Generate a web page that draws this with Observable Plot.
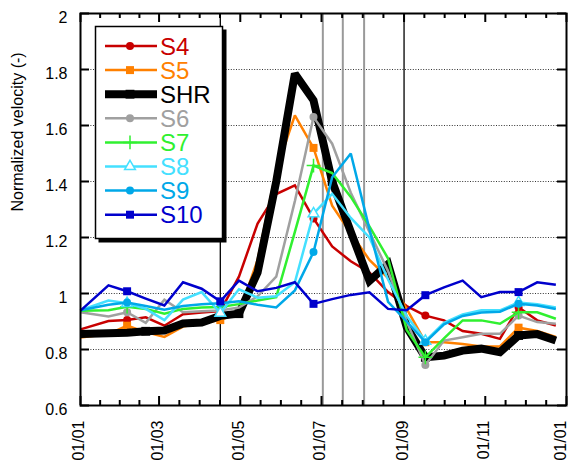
<!DOCTYPE html>
<html><head><meta charset="utf-8">
<script src="https://cdn.jsdelivr.net/npm/d3@7"></script>
<script src="https://cdn.jsdelivr.net/npm/@observablehq/plot@0.6"></script>
<style>body{margin:0;background:#fff}#chart{width:569px;height:462px}</style>
</head><body><div id="chart"></div>
<script>
// day of year (0 = 01/01)
const days = [0,21,35,49,63,77,91,105,119,133,147,161,175,189,203,217,231,245,259,273,287,301,315,329,343,357];
const S4  = [0.872,0.902,0.905,0.915,0.885,0.926,0.932,0.937,1.06,1.25,1.355,1.386,1.268,1.168,1.115,1.075,1.005,0.955,0.921,0.904,0.866,0.856,0.838,0.951,0.904,0.886];
const S5  = [0.843,0.855,0.885,0.862,0.845,0.882,0.895,0.905,0.93,1.12,1.44,1.636,1.52,1.314,1.215,1.12,1.055,0.945,0.826,0.826,0.82,0.811,0.811,0.878,0.866,0.845];
const SHR = [0.855,0.858,0.86,0.865,0.868,0.893,0.896,0.92,0.928,1.075,1.40,1.785,1.69,1.40,1.22,1.045,1.105,0.88,0.772,0.778,0.796,0.803,0.79,0.85,0.855,0.832];
const S6  = [0.933,0.918,0.933,0.895,0.978,0.933,0.937,0.939,0.95,0.99,1.06,1.33,1.63,1.535,1.36,1.22,1.08,0.90,0.745,0.832,0.844,0.856,0.856,0.921,0.898,0.892];
const S7  = [0.938,0.94,0.953,0.945,0.928,0.945,0.95,0.952,0.962,0.975,0.987,1.22,1.457,1.43,1.345,1.24,1.125,0.87,0.772,0.84,0.904,0.904,0.892,0.933,0.933,0.91];
const S8  = [0.94,0.975,0.965,0.945,0.905,0.978,1.005,0.93,1.015,0.985,0.99,1.04,1.285,1.356,1.27,1.2,1.05,0.92,0.83,0.895,0.925,0.94,0.94,0.968,0.962,0.95];
const S9  = [0.94,0.96,0.968,0.955,0.942,0.955,0.962,0.965,0.972,0.96,0.95,1.011,1.148,1.415,1.5,1.23,0.97,0.90,0.826,0.89,0.92,0.932,0.935,0.963,0.957,0.945];
const S10 = [0.939,1.029,1.008,0.982,0.957,1.04,1.017,0.972,1.046,1.008,1.02,1.04,0.963,0.98,0.995,1.004,0.945,0.94,0.994,1.022,1.046,0.987,1.005,1.005,1.04,1.031];

const seriesNames = ["S4","S5","SHR","S6","S7","S8","S9","S10"];
const seriesValues = [S4,S5,SHR,S6,S7,S8,S9,S10];
const markerIdx = [2,7,12,18,23];
const markerIdxSHR = [3,8,13,18,23];

const xTickDays = [0,59,120,181,243,304,365];
const xTickLabels = ["01/01","01/03","01/05","01/07","01/09","01/11","01/01"];
const yTicks = [0.6,0.8,1.0,1.2,1.4,1.6,1.8,2.0];
const blackEvents = [105,243];
const grayEvents = [182,197,213];

// styles
const styles = {
  S4:  {color:"#c80000", w:2.5, symbol:"circle",   fill:true,  r:4},
  S5:  {color:"#ff8000", w:2.5, symbol:"square",   fill:true,  r:4.5},
  SHR: {color:"#000000", w:8,   symbol:"square",   fill:true,  r:5},
  S6:  {color:"#a0a0a0", w:2.5, symbol:"circle",   fill:true,  r:4},
  S7:  {color:"#30f030", w:2.5, symbol:"plus",     fill:false, r:4.5},
  S8:  {color:"#44e0ff", w:2.5, symbol:"triangle", fill:false, r:4},
  S9:  {color:"#00a8e8", w:2.5, symbol:"circle",   fill:true,  r:4},
  S10: {color:"#0000cc", w:2.5, symbol:"square",   fill:true,  r:4.5}
};
const FONT = "'Liberation Sans', Arial, Helvetica, sans-serif";

const minorTicks = [];
for (let i = 0; i < xTickDays.length - 1; i++) {
  const a = xTickDays[i], b = xTickDays[i+1];
  for (let k = 1; k < 4; k++) minorTicks.push(a + (b - a) * k / 4);
}
const PX_Y = 1/280, PX_X = 365/486;
const majLen = 9*PX_Y, minLen = 5*PX_Y, yTickLen = 9*PX_X;

const marks = [];
// grid
marks.push(Plot.ruleY(yTicks.filter(v => v > 0.61 && v < 1.99), {stroke:"#333", strokeWidth:1, strokeDasharray:"1,1.6"}));
// event lines
marks.push(Plot.ruleX(grayEvents, {stroke:"#999", strokeWidth:2}));
marks.push(Plot.ruleX(blackEvents, {stroke:"#000", strokeWidth:1.3}));
// ticks (inward)
marks.push(Plot.ruleX(xTickDays, {x:d=>d, y1:0.6, y2:0.6+majLen, stroke:"#000", strokeWidth:2}));
marks.push(Plot.ruleX(xTickDays, {x:d=>d, y1:2.0, y2:2.0-majLen, stroke:"#000", strokeWidth:2}));
marks.push(Plot.ruleX(minorTicks, {x:d=>d, y1:0.6, y2:0.6+minLen, stroke:"#000", strokeWidth:2}));
marks.push(Plot.ruleX(minorTicks, {x:d=>d, y1:2.0, y2:2.0-minLen, stroke:"#000", strokeWidth:2}));
marks.push(Plot.ruleY(yTicks, {y:d=>d, x1:0, x2:yTickLen, stroke:"#000", strokeWidth:2}));
marks.push(Plot.ruleY(yTicks, {y:d=>d, x1:365, x2:365-yTickLen, stroke:"#000", strokeWidth:2}));

// series
seriesNames.forEach((name, si) => {
  const st = styles[name];
  const rows = days.map((d, i) => ({day:d, v:seriesValues[si][i], i}));
  marks.push(Plot.line(rows, {x:"day", y:"v", stroke:st.color, strokeWidth:st.w,
    strokeLinejoin:"miter", strokeMiterlimit:2, strokeLinecap:"butt"}));
  const mi = name === "SHR" ? markerIdxSHR : markerIdx;
  const mrows = rows.filter(r => mi.includes(r.i));
  marks.push(Plot.dot(mrows, {x:"day", y:"v", symbol:st.symbol, r:st.r,
    fill: st.fill ? st.color : (st.symbol === "triangle" ? "white" : "none"),
    stroke: st.fill ? "none" : st.color, strokeWidth: 1.5}));
});

marks.push(Plot.frame({stroke:"#000", strokeWidth:2}));

// axis labels
marks.push(Plot.axisY({ticks:yTicks, tickSize:0, tickPadding:13, fontSize:16, dy:4,
  tickFormat:d => String(+d.toFixed(1)), label:null}));
const xLabelRows = xTickDays.map((d,i)=>({d, t:xTickLabels[i], last: i === xTickDays.length-1}));
marks.push(Plot.text(xLabelRows.filter(r => !r.last), {x:"d", text:"t", frameAnchor:"bottom",
  rotate:-90, textAnchor:"end", lineAnchor:"middle", dy:15, dx:-1.5, fontSize:16, fill:"#000"}));
marks.push(Plot.text(xLabelRows.filter(r => r.last), {x:"d", text:"t", frameAnchor:"bottom",
  rotate:-90, textAnchor:"end", lineAnchor:"middle", dy:15, dx:-5.5, fontSize:16, fill:"#000"}));
marks.push(Plot.text(["Normalized velocity (-)"], {frameAnchor:"left", rotate:-90, dx:-63, dy:2,
  fontSize:16, fill:"#000", lineAnchor:"middle"}));

// legend
marks.push(() => {
  const g = d3.create("svg:g").attr("font-family", FONT).attr("text-anchor","start");
  g.append("rect").attr("x",98.5).attr("y",29.5).attr("width",128).attr("height",213).attr("fill","#000");
  g.append("rect").attr("x",95.5).attr("y",26.5).attr("width",127).attr("height",212)
    .attr("fill","#fff").attr("stroke","#000").attr("stroke-width",1.5);
  const symMap = {circle:d3.symbolCircle, square:d3.symbolSquare, plus:d3.symbolPlus, triangle:d3.symbolTriangle};
  seriesNames.forEach((name, i) => {
    const st = styles[name];
    const y = 46 + i * 24.1;
    g.append("line").attr("x1",105).attr("x2",157).attr("y1",y).attr("y2",y)
      .attr("stroke",st.color).attr("stroke-width",st.w);
    g.append("path").attr("transform",`translate(130,${y})`)
      .attr("d", d3.symbol(symMap[st.symbol], Math.PI*st.r*st.r)())
      .attr("fill", st.fill ? st.color : (st.symbol==="triangle" ? "#fff" : "none"))
      .attr("stroke", st.fill ? "none" : st.color).attr("stroke-width",1.5);
    g.append("text").attr("x",160).attr("y",y).attr("dy","0.36em").attr("font-size",24)
      .attr("text-anchor","start").attr("fill",st.color).text(name);
  });
  return g.node();
});

const chart = Plot.plot({
  width:569, height:462,
  marginLeft:80, marginRight:3, marginTop:13, marginBottom:57,
  style:{fontFamily:FONT, background:"#fff", color:"#000"},
  x:{domain:[0,365], axis:null},
  y:{domain:[0.6,2.0], axis:null},
  marks
});
document.getElementById("chart").appendChild(chart);
</script>
</body></html>
